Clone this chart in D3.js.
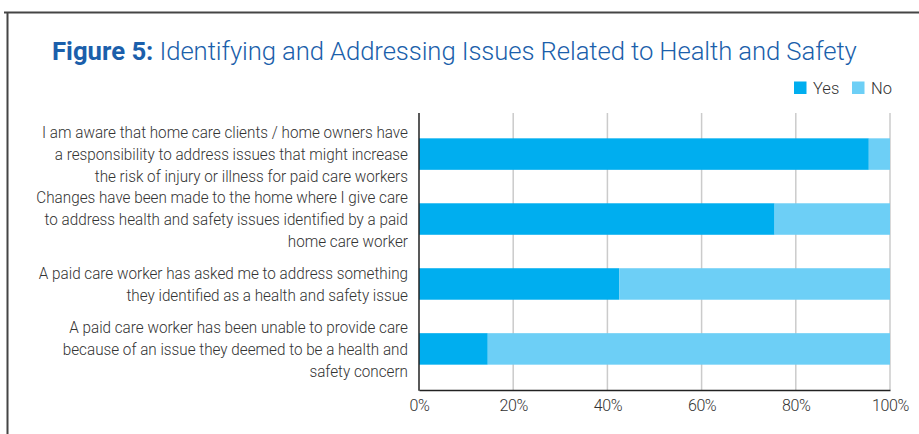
<!DOCTYPE html>
<html>
<head>
<meta charset="utf-8">
<script src="https://cdn.jsdelivr.net/npm/d3@7/dist/d3.min.js"></script>
<style>
  html, body { margin: 0; padding: 0; background: #fff; }
  svg { display: block; font-family: Roboto, "Noto Sans", sans-serif; }
</style>
</head>
<body>
<svg id="chart" width="919" height="434"></svg>
<script>
// Survey statements, each split into its display lines
const categories = [
  ["I am aware that home care clients / home owners have",
   "a responsibility to address issues that might increase",
   "the risk of injury or illness for paid care workers"],
  ["Changes have been made to the home where I give care",
   "to address health and safety issues identified by a paid",
   "home care worker"],
  ["A paid care worker has asked me to address something",
   "they identified as a health and safety issue"],
  ["A paid care worker has been unable to provide care",
   "because of an issue they deemed to be a health and",
   "safety concern"]
];
// Share of respondents (%) answering Yes / No
const yesValues = [95.5, 75.5, 42.5, 14.6];
const noValues = [4.5, 24.5, 57.5, 85.4];
const seriesNames = ["Yes", "No"];
const seriesColors = ["#00aeef", "#6dcff6"];
const xTicks = [0, 20, 40, 60, 80, 100];

const svg = d3.select("#chart");

// outer frame (top and left edges)
svg.append("path")
  .attr("d", "M4,12.5 H919 M7.5,12 V434")
  .attr("fill", "none")
  .attr("stroke", "#454545")
  .attr("stroke-width", 2);

// title
const title = svg.append("text")
  .attr("x", 52)
  .attr("y", 60)
  .attr("font-size", 25.7)
  .attr("fill", "#1b5fab");
title.append("tspan").attr("font-weight", 700).text("Figure 5:");
title.append("tspan").attr("font-weight", 300).attr("letter-spacing", -0.1)
  .text(" Identifying and Addressing Issues Related to Health and Safety");

const plotTop = 113, plotBottom = 390;
const x = d3.scaleLinear().domain([0, 100]).range([419, 890]);
const y = d3.scaleBand()
  .domain(d3.range(categories.length))
  .range([plotTop, plotBottom])
  .paddingInner(0.515)
  .paddingOuter(0.39)
  .align(0.5);

// vertical gridlines
svg.append("g")
  .selectAll("line")
  .data(xTicks.slice(1))
  .join("line")
  .attr("x1", d => x(d)).attr("x2", d => x(d))
  .attr("y1", plotTop).attr("y2", plotBottom)
  .attr("stroke", "#cbcbcb")
  .attr("stroke-width", 1.5);

// stacked bars
const rows = yesValues.map((v, i) => ({ i, parts: [[0, v], [v, v + noValues[i]]] }));
const rowG = svg.append("g").selectAll("g")
  .data(rows)
  .join("g");
rowG.selectAll("rect")
  .data(d => d.parts.map((p, k) => ({ i: d.i, k, p })))
  .join("rect")
  .attr("x", d => x(d.p[0]))
  .attr("width", d => x(d.p[1]) - x(d.p[0]))
  .attr("y", d => y(d.i))
  .attr("height", y.bandwidth())
  .attr("fill", d => seriesColors[d.k]);

// x axis
const xAxis = svg.append("g")
  .attr("transform", `translate(0,${plotBottom})`)
  .call(d3.axisBottom(x).tickValues(xTicks).tickFormat(d => d + "%").tickSize(0).tickPadding(10));
xAxis.select(".domain").attr("stroke", "#222").attr("stroke-width", 1.5);
xAxis.selectAll("text")
  .attr("font-family", "Roboto, sans-serif")
  .attr("font-weight", 300)
  .attr("font-size", 16)
  .attr("letter-spacing", -0.4)
  .attr("fill", "#333");

// y axis line
svg.append("line")
  .attr("x1", x(0)).attr("x2", x(0))
  .attr("y1", plotTop).attr("y2", plotBottom + 0.75)
  .attr("stroke", "#222")
  .attr("stroke-width", 1.5);

// category labels, right aligned, slightly condensed
const labelRight = 408;
const lineH = 21.8;
svg.append("g")
  .attr("transform", `translate(${labelRight},0) scale(0.925,1) translate(${-labelRight},0)`)
  .selectAll("text")
  .data(categories)
  .join("text")
  .attr("text-anchor", "end")
  .attr("font-size", 16.5)
  .attr("font-weight", 300)
  .attr("fill", "#333")
  .each(function (lines, i) {
    const cy = y(i) + y.bandwidth() / 2;
    const first = cy - (lines.length - 1) * lineH / 2 + 6;
    d3.select(this).selectAll("tspan")
      .data(lines)
      .join("tspan")
      .attr("x", labelRight)
      .attr("y", (d, j) => first + j * lineH)
      .text(d => d);
  });

// legend
const legend = svg.append("g");
const legendX = [794, 852];
seriesNames.forEach((name, k) => {
  legend.append("rect")
    .attr("x", legendX[k]).attr("y", 81.5)
    .attr("width", 12.5).attr("height", 12.5)
    .attr("fill", seriesColors[k]);
  legend.append("text")
    .attr("x", legendX[k] + 19).attr("y", 94)
    .attr("font-size", 16.5)
    .attr("font-weight", 300)
    .attr("fill", "#333")
    .text(name);
});
</script>
</body>
</html>
